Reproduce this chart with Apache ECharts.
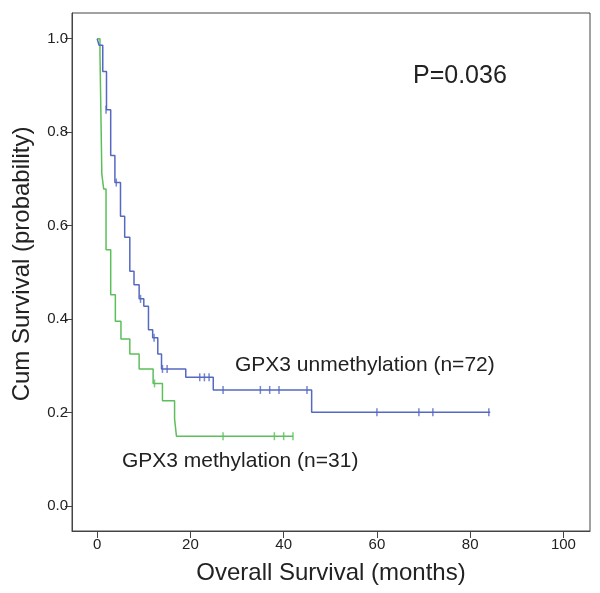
<!DOCTYPE html>
<html>
<head>
<meta charset="utf-8">
<script src="https://cdn.jsdelivr.net/npm/echarts@6/dist/echarts.min.js"></script>
<style>
  html, body { margin: 0; padding: 0; background: #fff; }
  #chart { width: 600px; height: 593px; }
</style>
</head>
<body>
<div id="chart"></div>
<script>
// 坐标轴刻度
const xTicks = [0, 20, 40, 60, 80, 100]
const yTicks = [0, 0.2, 0.4, 0.6, 0.8, 1.0]

// GPX3 unmethylation (n=72)：生存曲线的阶梯点
const unmethTimes = [0, 0.4, 1.2, 2, 2.9, 3.8, 5, 5.9, 7, 7.9, 9, 10, 11, 11.9, 13, 13.8, 19, 24.9, 46, 84.3]
const unmethSurv = [1.0, 0.986, 0.93, 0.848, 0.75, 0.692, 0.62, 0.575, 0.502, 0.473, 0.443, 0.427, 0.377, 0.36, 0.325, 0.293, 0.275, 0.248, 0.2, 0.2]
// 删失点
const unmethCensorTimes = [1.9, 4.1, 9.3, 12.2, 14, 15, 22, 23, 24, 27, 35, 37, 39, 45, 60, 69, 72, 84]
const unmethCensorSurv = [0.848, 0.692, 0.443, 0.36, 0.293, 0.293, 0.275, 0.275, 0.275, 0.248, 0.248, 0.248, 0.248, 0.248, 0.2, 0.2, 0.2, 0.2]

// GPX3 methylation (n=31)
const methTimes = [0, 0.6, 1.0, 1.4, 1.9, 2.9, 3.9, 5.1, 7, 9, 12, 14, 16.6, 17, 42]
const methSurv = [1.0, 0.968, 0.71, 0.678, 0.548, 0.452, 0.395, 0.357, 0.325, 0.293, 0.262, 0.225, 0.186, 0.149, 0.149]
const methCensorTimes = [12.3, 27, 38, 40, 42]
const methCensorSurv = [0.262, 0.149, 0.149, 0.149, 0.149]

const blue = '#5568c2'
const green = '#5cbf5c'
const fontFamily = '"Liberation Sans", Arial, sans-serif'

const zip = (a, b) => a.map((v, i) => [v, b[i]])

const chart = echarts.init(document.getElementById('chart'))

// 公共的坐标轴样式
const commonAxis = {
  axisLine: { show: true, onZero: false, lineStyle: { color: '#444', width: 1 } },
  axisTick: { show: true, length: 7, lineStyle: { color: '#444', width: 1 } },
  splitLine: { show: false },
}

const option = {
  animation: false,
  grid: {
    left: 72, right: 10, top: 13, bottom: 62,
    show: true, borderColor: '#444', borderWidth: 1,
  },
  xAxis: {
    ...commonAxis,
    type: 'value',
    min: -5.4,
    max: 105.7,
    axisTick: { ...commonAxis.axisTick, customValues: xTicks },
    axisLabel: {
      customValues: xTicks,
      color: '#222', fontSize: 15, fontFamily, margin: 6,
    },
    name: 'Overall Survival (months)',
    nameLocation: 'middle',
    nameGap: 30,
    nameTextStyle: { color: '#222', fontSize: 24, fontFamily },
  },
  yAxis: {
    ...commonAxis,
    type: 'value',
    min: -0.054,
    max: 1.055,
    axisTick: { ...commonAxis.axisTick, customValues: yTicks },
    axisLabel: {
      customValues: yTicks,
      formatter: (v) => v.toFixed(1),
      color: '#222', fontSize: 15, fontFamily, margin: 4,
    },
  },
  graphic: [
    {
      type: 'text', x: 22, y: 264, rotation: Math.PI / 2,
      style: {
        text: 'Cum Survival (probability)', fill: '#222', font: '24px ' + fontFamily,
        align: 'center', verticalAlign: 'middle',
      },
    },
    {
      type: 'text', left: 413, top: 64,
      style: { text: 'P=0.036', fill: '#222', font: '25px ' + fontFamily },
    },
    {
      type: 'text', left: 235, top: 355,
      style: { text: 'GPX3 unmethylation (n=72)', fill: '#222', font: '21px ' + fontFamily },
    },
    {
      type: 'text', left: 122, top: 451,
      style: { text: 'GPX3 methylation (n=31)', fill: '#222', font: '21px ' + fontFamily },
    },
  ],
  series: [
    {
      name: 'GPX3 unmethylation',
      type: 'line',
      step: 'end',
      symbol: 'none',
      data: zip(unmethTimes, unmethSurv),
      lineStyle: { color: blue, width: 1.5 },
      z: 3,
    },
    {
      name: 'GPX3 methylation',
      type: 'line',
      step: 'end',
      symbol: 'none',
      data: zip(methTimes, methSurv),
      lineStyle: { color: green, width: 1.5 },
      z: 2,
    },
    {
      type: 'scatter',
      data: zip(unmethCensorTimes, unmethCensorSurv),
      symbol: 'rect',
      symbolSize: [1.5, 8],
      itemStyle: { color: blue },
      z: 4,
    },
    {
      type: 'scatter',
      data: zip(methCensorTimes, methCensorSurv),
      symbol: 'rect',
      symbolSize: [1.5, 8],
      itemStyle: { color: green },
      z: 4,
    },
  ],
}

chart.setOption(option)
</script>
</body>
</html>
